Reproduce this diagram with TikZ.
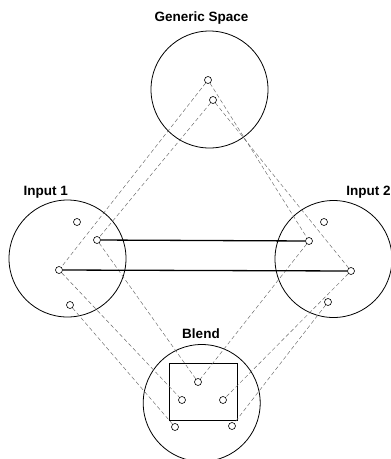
\documentclass[tikz,border=0pt]{standalone}
\usepackage{fontspec}
\setmainfont{Liberation Sans}
\begin{document}
\begin{tikzpicture}[x=1pt,y=-1pt,
  space/.style={draw,circle,line width=0.8pt,minimum size=117pt,inner sep=0pt},
  elem/.style={draw,circle,fill=white,line width=0.6pt,minimum size=7pt,inner sep=0pt},
  title/.style={font=\bfseries\fontsize{13.5}{15}\selectfont,inner sep=0pt},
  mapping/.style={dashed,dash pattern=on 4pt off 2.5pt,gray!80!black,line width=0.45pt},
  counterpart/.style={line width=1.3pt}]
\useasboundingbox (0,0) rectangle (391,459);

% the four mental spaces
\node[space] (gen) at (209.5,89.5) {};
\node[space] (in1) at (67.5,258.5) {};
\node[space] (in2) at (333.5,259) {};
\node[space] (bl) at (201.7,403) {};

% space titles
\node[title] (tgen) at (201.5,18) {Generic Space};
\node[title] (tin1) at (45.8,192) {Input 1};
\node[title] (tin2) at (368.5,192) {Input 2};
\node[title] (tbl) at (201,334) {Blend};

% frame of the blend
\draw[line width=1pt] (169,363) rectangle (237,420);

% elements of each space
\node[elem] (g1) at (208,80) {};
\node[elem] (g2) at (213,100) {};
\node[elem] (a1) at (77,222) {};
\node[elem] (a2) at (97,240) {};
\node[elem] (a3) at (59,270) {};
\node[elem] (a4) at (70,305) {};
\node[elem] (b1) at (324,222) {};
\node[elem] (b2) at (309,241) {};
\node[elem] (b3) at (351,271) {};
\node[elem] (b4) at (328,302) {};
\node[elem] (c1) at (198,382) {};
\node[elem] (c2) at (182,400) {};
\node[elem] (c3) at (223,400) {};
\node[elem] (c4) at (175,427) {};
\node[elem] (c5) at (232,426) {};

% projections between spaces
\draw[mapping] (g1) -- (a3);
\draw[mapping] (g1) -- (b2);
\draw[mapping] (g2) -- (a2);
\draw[mapping] (g2) -- (b3);
\draw[mapping] (a2) -- (c1);
\draw[mapping] (a3) -- (c2);
\draw[mapping] (a4) -- (c4);
\draw[mapping] (b2) -- (c1);
\draw[mapping] (b3) -- (c3);
\draw[mapping] (b4) -- (c5);

% cross-space counterpart links
\draw[counterpart] (a2) -- (b2);
\draw[counterpart] (a3) -- (b3);
\end{tikzpicture}
\end{document}
